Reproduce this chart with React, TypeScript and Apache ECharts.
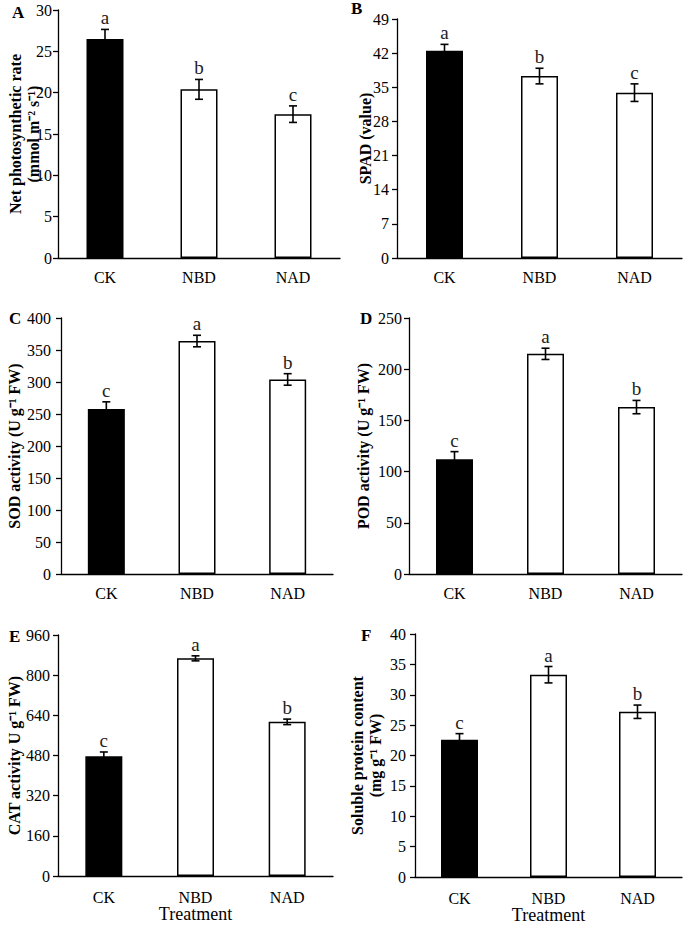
import React, { useEffect, useRef } from "react";
import * as echarts from "echarts";

const categories = ["CK", "NBD", "NAD"];

const photoRate = [26.5, 20.4, 17.4];
const photoErr = [1.15, 1.2, 1.0];
const photoLetters = ["a", "b", "c"];

const spad = [42.5, 37.3, 33.9];
const spadErr = [1.3, 1.6, 1.8];
const spadLetters = ["a", "b", "c"];

const sod = [258, 364, 304];
const sodErr = [11, 9, 9];
const sodLetters = ["c", "a", "b"];

const pod = [112, 215, 163];
const podErr = [7.5, 5.5, 6.5];
const podLetters = ["c", "a", "b"];

const cat = [477, 867, 614];
const catErr = [17, 10, 11];
const catLetters = ["c", "a", "b"];

const protein = [22.6, 33.3, 27.2];
const proteinErr = [1.0, 1.35, 1.1];
const proteinLetters = ["c", "a", "b"];

const FONT = "Liberation Serif, Times New Roman, serif";

type Panel = {
  tag: string;
  values: number[];
  errs: number[];
  letters: string[];
  max: number;
  interval: number;
  yName: string;
  nameGap: number;
  labelMargin: number;
  xLabelMargin: number;
  grid: { left: number; top: number; width: number; height: number };
  tagPos: [number, number];
  xName?: string;
};

const panels: Panel[] = [
  {
    tag: "A", values: photoRate, errs: photoErr, letters: photoLetters, max: 30, interval: 5,
    yName: "Net photosynthetic rate\n(mmol m\u207B\u00B2 s\u207B\u00B9)", nameGap: 16, labelMargin: 6, xLabelMargin: 11,
    grid: { left: 58, top: 10, width: 282, height: 248 }, tagPos: [12, 4],
  },
  {
    tag: "B", values: spad, errs: spadErr, letters: spadLetters, max: 49, interval: 7,
    yName: "SPAD (value)", nameGap: 23, labelMargin: 8, xLabelMargin: 11,
    grid: { left: 397, top: 19, width: 285, height: 239 }, tagPos: [351, 0],
  },
  {
    tag: "C", values: sod, errs: sodErr, letters: sodLetters, max: 400, interval: 50,
    yName: "SOD activity (U g\u207B\u00B9 FW)", nameGap: 38, labelMargin: 10, xLabelMargin: 11,
    grid: { left: 61, top: 318, width: 272, height: 256 }, tagPos: [9, 310],
  },
  {
    tag: "D", values: pod, errs: podErr, letters: podLetters, max: 250, interval: 50,
    yName: "POD activity (U g\u207B\u00B9 FW)", nameGap: 37, labelMargin: 7, xLabelMargin: 11,
    grid: { left: 409, top: 318, width: 273, height: 256 }, tagPos: [360, 310],
  },
  {
    tag: "E", values: cat, errs: catErr, letters: catLetters, max: 960, interval: 160,
    yName: "CAT activity U g\u207B\u00B9 FW)", nameGap: 35, labelMargin: 8, xLabelMargin: 13,
    grid: { left: 58, top: 635, width: 275, height: 241 }, tagPos: [9, 628], xName: "Treatment",
  },
  {
    tag: "F", values: protein, errs: proteinErr, letters: proteinLetters, max: 40, interval: 5,
    yName: "Soluble protein content\n(mg g\u207B\u00B9 FW)", nameGap: 31, labelMargin: 9, xLabelMargin: 13,
    grid: { left: 415, top: 634, width: 267, height: 243 }, tagPos: [361, 627], xName: "Treatment",
  },
];

export default function App() {
  const ref = useRef<HTMLDivElement>(null);

  useEffect(() => {
    if (!ref.current) return;
    const chart = echarts.init(ref.current, undefined, { renderer: "svg" });

    const grid: any[] = [];
    const xAxis: any[] = [];
    const yAxis: any[] = [];
    const series: any[] = [];
    const graphic: any[] = [];

    panels.forEach((p, i) => {
      grid.push({ ...p.grid, containLabel: false });
      xAxis.push({
        type: "category",
        gridIndex: i,
        data: categories,
        axisLine: { lineStyle: { color: "#000", width: 1.3 } },
        axisTick: { alignWithLabel: true, length: 5, lineStyle: { color: "#000", width: 1.3 } },
        axisLabel: { color: "#000", fontFamily: FONT, fontSize: 16, margin: p.xLabelMargin },
        name: p.xName || "",
        nameLocation: "middle",
        nameGap: 29,
        nameMoveOverlap: false,
        nameTextStyle: { color: "#000", fontFamily: FONT, fontSize: 18, verticalAlign: "top" },
      });
      yAxis.push({
        type: "value",
        gridIndex: i,
        min: 0,
        max: p.max,
        interval: p.interval,
        splitLine: { show: false },
        axisLine: { show: true, lineStyle: { color: "#000", width: 1.3 } },
        axisTick: { show: true, length: 5, lineStyle: { color: "#000", width: 1.3 } },
        axisLabel: { color: "#000", fontFamily: FONT, fontSize: 16, margin: p.labelMargin },
        name: p.yName,
        nameLocation: "middle",
        nameRotate: 90,
        nameGap: p.nameGap,
        nameMoveOverlap: false,
        nameTextStyle: {
          color: "#000", fontFamily: FONT, fontSize: 16, fontWeight: "bold", lineHeight: 18,
        },
      });
      series.push({
        type: "bar",
        xAxisIndex: i,
        yAxisIndex: i,
        barWidth: 37,
        data: p.values.map((v, k) => ({
          value: v,
          itemStyle: { color: k === 0 ? "#000" : "#fff", borderColor: "#000", borderWidth: 1.5 },
        })),
        z: 2,
      });
      const letters = p.letters;
      series.push({
        type: "custom",
        xAxisIndex: i,
        yAxisIndex: i,
        z: 5,
        data: p.values.map((v, k) => [k, v, p.errs[k]]),
        renderItem: (params: any, api: any) => {
          const x = api.value(0);
          const v = api.value(1);
          const e = api.value(2);
          const top = api.coord([x, v + e]);
          const bot = api.coord([x, v - e]);
          const half = 4;
          const st = { stroke: "#000", lineWidth: 1.6 };
          return {
            type: "group",
            children: [
              { type: "line", shape: { x1: top[0], y1: top[1], x2: bot[0], y2: bot[1] }, style: st },
              { type: "line", shape: { x1: top[0] - half, y1: top[1], x2: top[0] + half, y2: top[1] }, style: st },
              { type: "line", shape: { x1: bot[0] - half, y1: bot[1], x2: bot[0] + half, y2: bot[1] }, style: st },
              {
                type: "text",
                x: top[0],
                y: top[1] - 2,
                style: {
                  text: letters[params.dataIndex],
                  textAlign: "center",
                  textVerticalAlign: "bottom",
                  fontFamily: FONT,
                  fontSize: 19,
                  fill: "#222",
                },
              },
            ],
          };
        },
      });
      graphic.push({
        type: "text",
        left: p.tagPos[0],
        top: p.tagPos[1],
        style: { text: p.tag, fontFamily: FONT, fontSize: 17, fontWeight: "bold", fill: "#000" },
      });
    });

    chart.setOption({
      animation: false,
      backgroundColor: "#fff",
      grid,
      xAxis,
      yAxis,
      series,
      graphic,
    });

    return () => chart.dispose();
  }, []);

  return (
    <div
      ref={ref}
      style={{ position: "absolute", left: 0, top: 0, width: 685, height: 931, background: "#fff" }}
    />
  );
}
